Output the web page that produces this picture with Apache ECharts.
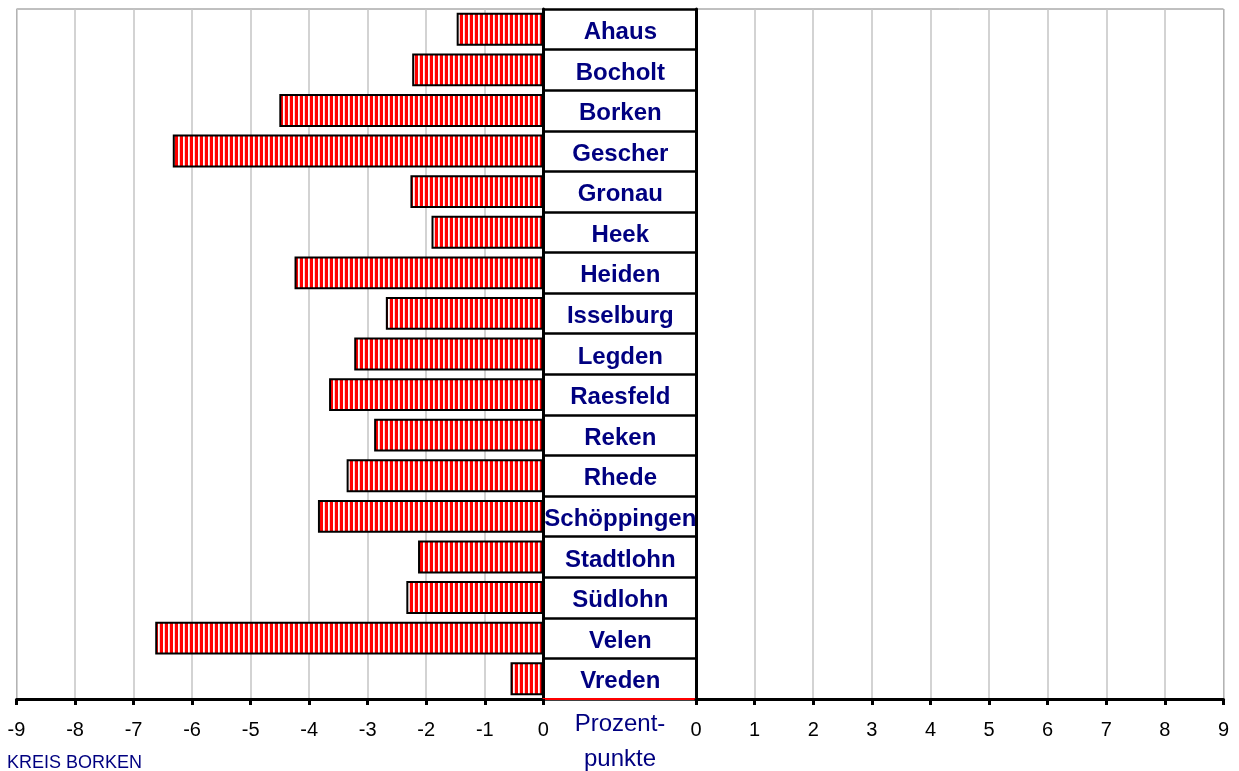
<!DOCTYPE html>
<html>
<head>
<meta charset="utf-8">
<script src="https://cdn.jsdelivr.net/npm/echarts@6/dist/echarts.min.js"></script>
<style>
  html, body { margin: 0; padding: 0; background: #fff; }
  #chart { width: 1239px; height: 771px; }
</style>
</head>
<body>
<div id="chart"></div>
<script>
// Gemeinden im Kreis Borken
var towns = ['Ahaus', 'Bocholt', 'Borken', 'Gescher', 'Gronau', 'Heek', 'Heiden', 'Isselburg',
  'Legden', 'Raesfeld', 'Reken', 'Rhede', 'Schöppingen', 'Stadtlohn', 'Südlohn', 'Velen', 'Vreden'];
// Veränderung in Prozentpunkten
var changes = [-1.48, -2.24, -4.51, -6.33, -2.27, -1.91, -4.25, -2.69,
  -3.23, -3.66, -2.89, -3.36, -3.85, -2.14, -2.34, -6.63, -0.56];
var leftTicks = [-9, 0];
var rightTicks = [0, 9];

var FONT = "'Liberation Sans', Arial, sans-serif";
var NAVY = '#000080';

// rot/weiss gestreifte Füllung
function stripes() {
  var c = document.createElement('canvas');
  c.width = 5; c.height = 4;
  var ctx = c.getContext('2d');
  ctx.fillStyle = '#ffffff';
  ctx.fillRect(0, 0, 5, 4);
  ctx.fillStyle = '#ff0000';
  ctx.fillRect(0, 0, 3, 4);
  ctx.fillStyle = '#ffd0d0';
  ctx.fillRect(4, 0, 1, 4);
  return c;
}

function valueAxis(idx, range) {
  return {
    type: 'value', gridIndex: idx, min: range[0], max: range[1], interval: 1,
    axisLine: { show: true, onZero: false, lineStyle: { color: '#000', width: 3 } },
    axisTick: { show: true, length: 6, lineStyle: { color: '#000', width: 3 } },
    axisLabel: { color: '#000', fontSize: 20, fontFamily: FONT, margin: 21 },
    splitLine: { show: true, lineStyle: { color: '#c4c4c4', width: 1.5 } }
  };
}

function hiddenAxis(idx) {
  return {
    type: 'value', gridIndex: idx, min: 0, max: 1, show: false
  };
}

var chart = echarts.init(document.getElementById('chart'));
chart.setOption({
  animation: false,
  backgroundColor: '#fff',
  grid: [
    { left: 16.5, right: 695.7, top: 9, bottom: 72, show: true, borderColor: '#808080', borderWidth: 1 },
    { left: 543.3, right: 543, top: 9, bottom: 72 },
    { left: 696, right: 15.5, top: 9, bottom: 72, show: true, borderColor: '#808080', borderWidth: 1 },
    // nur für die Beschriftung der Zellen, leicht nach unten versetzt
    { left: 543.3, right: 543, top: 12, bottom: 69 }
  ],
  xAxis: [
    valueAxis(0, leftTicks),
    {
      type: 'value', gridIndex: 1, min: 0, max: 1,
      axisLine: { show: true, onZero: false, lineStyle: { color: '#ff0000', width: 2 } },
      axisTick: { show: false }, axisLabel: { show: false }, splitLine: { show: false }
    },
    valueAxis(2, rightTicks),
    hiddenAxis(3)
  ],
  yAxis: [
    {
      type: 'category', gridIndex: 0, data: towns, inverse: true, position: 'right',
      axisLine: { show: true, lineStyle: { color: '#000', width: 3 } },
      axisTick: { show: false }, axisLabel: { show: false }, splitLine: { show: false }
    },
    {
      type: 'category', gridIndex: 1, data: towns, inverse: true, position: 'left',
      axisLine: { show: false }, axisTick: { show: false }, axisLabel: { show: false },
      splitLine: { show: true, lineStyle: { color: '#000', width: 2.5 } }
    },
    {
      type: 'category', gridIndex: 2, data: towns, inverse: true, position: 'left',
      axisLine: { show: true, lineStyle: { color: '#000', width: 3 } },
      axisTick: { show: false }, axisLabel: { show: false }, splitLine: { show: false }
    },
    {
      type: 'category', gridIndex: 3, data: towns, inverse: true, position: 'left',
      axisLine: { show: false }, axisTick: { show: false }, splitLine: { show: false },
      axisLabel: {
        inside: true, margin: 77, align: 'center', verticalAlign: 'middle',
        color: NAVY, fontWeight: 'bold', fontSize: 24, fontFamily: FONT
      }
    }
  ],
  series: [
    {
      type: 'bar', xAxisIndex: 0, yAxisIndex: 0, data: changes,
      barCategoryGap: '19%',
      itemStyle: {
        color: { image: stripes(), repeat: 'repeat' },
        borderColor: '#000', borderWidth: 2
      }
    }
  ],
  graphic: [
    { type: 'text', x: 620, y: 724, style: { text: 'Prozent-', fill: NAVY, font: '24px ' + FONT, textAlign: 'center', textVerticalAlign: 'middle' } },
    { type: 'text', x: 620, y: 759, style: { text: 'punkte', fill: NAVY, font: '24px ' + FONT, textAlign: 'center', textVerticalAlign: 'middle' } },
    { type: 'text', x: 7, y: 763, style: { text: 'KREIS BORKEN', fill: NAVY, font: '18px ' + FONT, textAlign: 'left', textVerticalAlign: 'middle' } }
  ]
});
</script>
</body>
</html>
